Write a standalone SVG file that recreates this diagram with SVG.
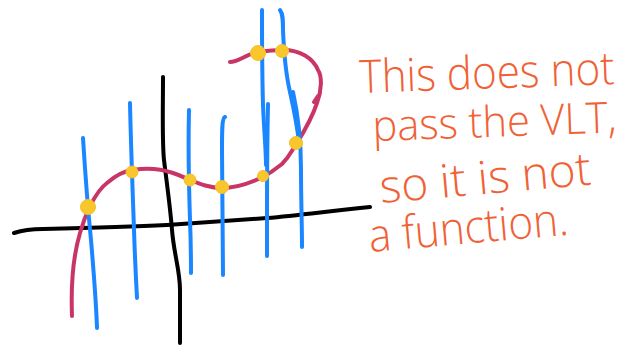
<svg xmlns="http://www.w3.org/2000/svg" width="642" height="346" viewBox="0 0 642 346">
<style>
.ink{fill:none;stroke-linecap:round;stroke-linejoin:round;stroke-width:4}
.axis{stroke:#000}
.curve{stroke:#C93566}
.vl{stroke:#1A86FF}
.dot{fill:#F9C62B;stroke:#F5C02A;stroke-width:1}
.txt{font-family:"Open Sans","Liberation Sans",sans-serif;font-weight:300;fill:#F06136;font-size:46px}
</style>
<rect width="642" height="346" fill="#fff"/>
<g id="axes">
<path class="ink axis" d="M14,233 C20,231 30,229 43,229 C90,228 130,227 167,225 C210,222 240,220 267,218 C300,215 330,211 370,207"/>
<path class="ink axis" d="M163,77 C163,110 162,140 164,160 C167,185 170,205 172,230 C174,255 180,270 180,290 C180,310 180,325 180,343"/>
</g>
<g id="curve">
<path class="ink curve" d="M72,316 C71,290 72,260 80,233 C85,215 95,192 107,183 C115,176 123,171 133,170 C145,168 158,168 173,173 C182,176 185,178 190,180 C200,184 210,188 222,188 C235,188 250,183 263,177 C272,172 277,168 282,164 C290,156 292,150 297,143 C305,130 312,118 317,103 C322,90 322,76 318,70 C313,58 300,50 283,50 C270,50 265,51 257,52 C245,55 238,62 230,62"/>
<path class="ink curve" d="M314,102 L318,96" />
</g>
<g id="vertical-lines">
<path class="ink vl" d="M83,138 C85,170 88,210 91,240 C94,275 96,300 97,328"/>
<path class="ink vl" d="M130,103 C131,150 133,200 134,230 C135,260 136,280 137,298"/>
<path class="ink vl" d="M189,110 C188,150 189,190 190,220 C191,245 191,260 191,273"/>
<path class="ink vl" d="M225,117 C222,118 222,130 222,150 C222,190 223,230 223,275"/>
<path class="ink vl" d="M262,10 C262,40 262,70 263,105 C264,130 266,150 266,165"/>
<path class="ink vl" d="M268,104 C267,150 267,190 267,220 C267,240 267,250 267,256"/>
<path class="ink vl" d="M280,10 C283,14 283,20 283,30 C284,55 286,75 290,92 C294,110 297,125 299,142"/>
<path class="ink vl" d="M293,92 C297,110 301,140 301,170 C301,200 302,225 302,247"/>
</g>
<g id="intersections">
<circle class="dot" cx="88" cy="207" r="7.5"/>
<circle class="dot" cx="132" cy="172" r="6"/>
<circle class="dot" cx="190" cy="180" r="6"/>
<circle class="dot" cx="222" cy="187" r="6.5"/>
<circle class="dot" cx="263" cy="176" r="5.5"/>
<circle class="dot" cx="296" cy="143" r="6.5"/>
<circle class="dot" cx="258" cy="53" r="7.5"/>
<circle class="dot" cx="282" cy="51" r="6.5"/>
</g>
<g id="caption">
<text class="txt" x="360" y="93" textLength="255" lengthAdjust="spacingAndGlyphs" transform="rotate(-2 360 93)">This does not</text>
<text class="txt" x="373" y="141" style="font-size:43px" textLength="244" lengthAdjust="spacingAndGlyphs" transform="rotate(-2 373 141)">pass the VLT,</text>
<text class="txt" x="381" y="203" textLength="212" lengthAdjust="spacingAndGlyphs" transform="rotate(-5 381 203)">so it is not</text>
<text class="txt" x="370" y="252" textLength="200" lengthAdjust="spacingAndGlyphs" transform="rotate(-5 370 252)">a function.</text>
</g>
</svg>
